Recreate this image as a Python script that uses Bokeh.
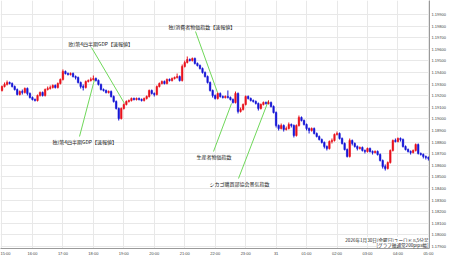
from bokeh.plotting import figure
from bokeh.models import FixedTicker, NumeralTickFormatter, Label, ColumnDataSource, Range1d
from bokeh.embed import file_html
from bokeh.resources import INLINE

# EUR/USD 5-minute candles, 2026-01-30 15:00 -> 2026-01-31 05:00
opens = [
    1.19245, 1.19279, 1.19297, 1.19314, 1.19305, 1.19279, 1.19253, 1.19210, 1.19236, 1.19228, 1.19262, 1.19219,
    1.19184, 1.19167, 1.19159, 1.19202, 1.19228, 1.19202, 1.19253, 1.19262, 1.19271, 1.19288, 1.19271, 1.19305,
    1.19340, 1.19409, 1.19391, 1.19383, 1.19391, 1.19365, 1.19357, 1.19314, 1.19279, 1.19271, 1.19322, 1.19331,
    1.19340, 1.19348, 1.19331, 1.19297, 1.19253, 1.19245, 1.19228, 1.19236, 1.19193, 1.19150, 1.19090, 1.19003,
    1.19090, 1.19124, 1.19150, 1.19159, 1.19176, 1.19167, 1.19176, 1.19167, 1.19159, 1.19176, 1.19193, 1.19245,
    1.19219, 1.19210, 1.19279, 1.19305, 1.19322, 1.19305, 1.19340, 1.19331, 1.19348, 1.19357, 1.19365, 1.19331,
    1.19452, 1.19486, 1.19512, 1.19503, 1.19521, 1.19478, 1.19460, 1.19434, 1.19400, 1.19365, 1.19314, 1.19245,
    1.19202, 1.19176, 1.19219, 1.19193, 1.19184, 1.19193, 1.19184, 1.19167, 1.19141, 1.19219, 1.19064, 1.19081,
    1.19124, 1.19193, 1.19176, 1.19159, 1.19150, 1.19133, 1.19090, 1.19124, 1.19141, 1.19133, 1.19141, 1.19107,
    1.19055, 1.18943, 1.18917, 1.18943, 1.18909, 1.18917, 1.18952, 1.18943, 1.18857, 1.18943, 1.19012, 1.18986,
    1.18952, 1.18917, 1.18900, 1.18917, 1.18874, 1.18848, 1.18822, 1.18797, 1.18762, 1.18745, 1.18805, 1.18814,
    1.18866, 1.18874, 1.18831, 1.18788, 1.18736, 1.18676, 1.18814, 1.18788, 1.18762, 1.18745, 1.18753, 1.18728,
    1.18719, 1.18745, 1.18719, 1.18710, 1.18719, 1.18693, 1.18641, 1.18590, 1.18572, 1.18624, 1.18728, 1.18814,
    1.18805, 1.18831, 1.18822, 1.18762, 1.18736, 1.18719, 1.18710, 1.18728, 1.18779, 1.18702, 1.18693, 1.18676, 1.18667,
]
highs = [
    1.19288, 1.19314, 1.19331, 1.19322, 1.19314, 1.19288, 1.19262, 1.19245, 1.19253, 1.19271, 1.19271, 1.19228,
    1.19193, 1.19176, 1.19210, 1.19236, 1.19236, 1.19262, 1.19279, 1.19288, 1.19297, 1.19297, 1.19314, 1.19348,
    1.19426, 1.19417, 1.19400, 1.19400, 1.19400, 1.19374, 1.19365, 1.19322, 1.19297, 1.19331, 1.19340, 1.19357,
    1.19374, 1.19357, 1.19340, 1.19305, 1.19262, 1.19253, 1.19245, 1.19245, 1.19202, 1.19159, 1.19098, 1.19098,
    1.19133, 1.19159, 1.19167, 1.19184, 1.19184, 1.19184, 1.19184, 1.19176, 1.19184, 1.19202, 1.19253, 1.19253,
    1.19228, 1.19288, 1.19314, 1.19331, 1.19331, 1.19348, 1.19348, 1.19357, 1.19365, 1.19391, 1.19374, 1.19469,
    1.19503, 1.19538, 1.19521, 1.19529, 1.19529, 1.19486, 1.19469, 1.19443, 1.19409, 1.19374, 1.19322, 1.19253,
    1.19210, 1.19228, 1.19228, 1.19202, 1.19202, 1.19245, 1.19193, 1.19176, 1.19236, 1.19228, 1.19098, 1.19133,
    1.19202, 1.19202, 1.19184, 1.19167, 1.19159, 1.19141, 1.19133, 1.19150, 1.19150, 1.19159, 1.19150, 1.19116,
    1.19064, 1.18952, 1.18960, 1.18952, 1.18934, 1.18969, 1.18960, 1.18952, 1.18952, 1.19029, 1.19021, 1.18995,
    1.18960, 1.18926, 1.18926, 1.18926, 1.18883, 1.18857, 1.18831, 1.18805, 1.18771, 1.18814, 1.18831, 1.18874,
    1.18891, 1.18883, 1.18840, 1.18797, 1.18745, 1.18831, 1.18822, 1.18797, 1.18771, 1.18762, 1.18762, 1.18736,
    1.18753, 1.18753, 1.18728, 1.18728, 1.18728, 1.18702, 1.18650, 1.18607, 1.18633, 1.18736, 1.18822, 1.18831,
    1.18840, 1.18840, 1.18831, 1.18771, 1.18745, 1.18728, 1.18736, 1.18788, 1.18788, 1.18710, 1.18702, 1.18684, 1.18676,
]
lows = [
    1.19236, 1.19271, 1.19288, 1.19297, 1.19271, 1.19245, 1.19202, 1.19202, 1.19210, 1.19219, 1.19202, 1.19176,
    1.19159, 1.19150, 1.19150, 1.19193, 1.19193, 1.19193, 1.19245, 1.19253, 1.19262, 1.19262, 1.19262, 1.19297,
    1.19331, 1.19383, 1.19374, 1.19374, 1.19357, 1.19340, 1.19305, 1.19262, 1.19245, 1.19262, 1.19314, 1.19322,
    1.19331, 1.19322, 1.19288, 1.19245, 1.19236, 1.19219, 1.19219, 1.19184, 1.19141, 1.19081, 1.18986, 1.18995,
    1.19081, 1.19116, 1.19141, 1.19150, 1.19159, 1.19159, 1.19159, 1.19150, 1.19150, 1.19167, 1.19184, 1.19210,
    1.19193, 1.19202, 1.19271, 1.19297, 1.19297, 1.19297, 1.19322, 1.19322, 1.19340, 1.19348, 1.19322, 1.19322,
    1.19443, 1.19478, 1.19495, 1.19495, 1.19469, 1.19452, 1.19426, 1.19391, 1.19357, 1.19305, 1.19236, 1.19184,
    1.19167, 1.19167, 1.19184, 1.19176, 1.19176, 1.19176, 1.19159, 1.19133, 1.19133, 1.19047, 1.19055, 1.19072,
    1.19116, 1.19167, 1.19150, 1.19141, 1.19124, 1.19072, 1.19081, 1.19116, 1.19124, 1.19124, 1.19098, 1.19047,
    1.18926, 1.18900, 1.18909, 1.18891, 1.18900, 1.18909, 1.18926, 1.18840, 1.18848, 1.18934, 1.18978, 1.18943,
    1.18900, 1.18874, 1.18891, 1.18866, 1.18840, 1.18814, 1.18788, 1.18745, 1.18728, 1.18736, 1.18788, 1.18805,
    1.18857, 1.18822, 1.18779, 1.18728, 1.18667, 1.18667, 1.18771, 1.18753, 1.18728, 1.18736, 1.18719, 1.18702,
    1.18710, 1.18710, 1.18693, 1.18702, 1.18684, 1.18633, 1.18572, 1.18555, 1.18564, 1.18615, 1.18719, 1.18797,
    1.18797, 1.18805, 1.18753, 1.18728, 1.18710, 1.18693, 1.18702, 1.18719, 1.18693, 1.18684, 1.18659, 1.18650, 1.18641,
]
closes = [
    1.19279, 1.19297, 1.19314, 1.19305, 1.19279, 1.19253, 1.19210, 1.19236, 1.19228, 1.19262, 1.19219, 1.19184,
    1.19167, 1.19159, 1.19202, 1.19228, 1.19202, 1.19253, 1.19262, 1.19271, 1.19288, 1.19271, 1.19305, 1.19340,
    1.19409, 1.19391, 1.19383, 1.19391, 1.19365, 1.19357, 1.19314, 1.19279, 1.19271, 1.19322, 1.19331, 1.19340,
    1.19348, 1.19331, 1.19297, 1.19253, 1.19245, 1.19228, 1.19236, 1.19193, 1.19150, 1.19090, 1.19003, 1.19090,
    1.19124, 1.19150, 1.19159, 1.19176, 1.19167, 1.19176, 1.19167, 1.19159, 1.19176, 1.19193, 1.19245, 1.19219,
    1.19210, 1.19279, 1.19305, 1.19322, 1.19305, 1.19340, 1.19331, 1.19348, 1.19357, 1.19365, 1.19331, 1.19452,
    1.19486, 1.19512, 1.19503, 1.19521, 1.19478, 1.19460, 1.19434, 1.19400, 1.19365, 1.19314, 1.19245, 1.19202,
    1.19176, 1.19219, 1.19193, 1.19184, 1.19193, 1.19184, 1.19167, 1.19141, 1.19219, 1.19064, 1.19081, 1.19124,
    1.19193, 1.19176, 1.19159, 1.19150, 1.19133, 1.19090, 1.19124, 1.19141, 1.19133, 1.19141, 1.19107, 1.19055,
    1.18943, 1.18917, 1.18943, 1.18909, 1.18917, 1.18952, 1.18943, 1.18857, 1.18943, 1.19012, 1.18986, 1.18952,
    1.18917, 1.18900, 1.18917, 1.18874, 1.18848, 1.18822, 1.18797, 1.18762, 1.18745, 1.18805, 1.18814, 1.18866,
    1.18874, 1.18831, 1.18788, 1.18736, 1.18676, 1.18814, 1.18788, 1.18762, 1.18745, 1.18753, 1.18728, 1.18719,
    1.18745, 1.18719, 1.18710, 1.18719, 1.18693, 1.18641, 1.18590, 1.18572, 1.18624, 1.18728, 1.18814, 1.18805,
    1.18831, 1.18822, 1.18762, 1.18736, 1.18719, 1.18710, 1.18728, 1.18779, 1.18702, 1.18693, 1.18676, 1.18667, 1.18659,
]
hour_labels = ["15:00", "16:00", "17:00", "18:00", "19:00", "20:00", "21:00", "22:00",
               "23:00", "31", "01:00", "02:00", "03:00", "04:00", "05:00"]
candles_per_hour = 12
price_ticks = [1.179, 1.180, 1.181, 1.182, 1.183, 1.184, 1.185, 1.186, 1.187, 1.188, 1.189,
               1.190, 1.191, 1.192, 1.193, 1.194, 1.195, 1.196, 1.197, 1.198, 1.199]
event_texts = ["欧)第4四半期GDP【速報値】", "独)第4四半期GDP【速報値】", "独)消費者物価指数【速報値】",
               "生産者物価指数", "シカゴ購買部協会景気指数"]
footnote = ["2026年1月30日(金曜日)ユーロドル5分足", "[グラフ軸通常200pips幅]"]

# ---- layout / style ----
FRAME_W, FRAME_H = 429, 248
X0, X1 = -0.59, 168.44
Y0, Y1 = 1.178827, 1.200207
UP, DOWN = "#e8121c", "#1616d6"
GREEN = "#6fd85a"
JP = "Noto Sans CJK JP"

def sx(px):
    return X0 + px / FRAME_W * (X1 - X0)

def sy(py):
    return Y1 - py / FRAME_H * (Y1 - Y0)

n = len(closes)
xs = list(range(n))
colors = [UP if c >= o else DOWN for o, c in zip(opens, closes)]
src = ColumnDataSource(dict(
    x=xs, open=opens, close=closes, high=highs, low=lows,
    top=[max(o, c) for o, c in zip(opens, closes)],
    bottom=[min(o, c) for o, c in zip(opens, closes)],
    color=colors))

p = figure(width=450, height=258, x_range=Range1d(X0, X1), y_range=Range1d(Y0, Y1),
           output_backend="svg", toolbar_location=None, y_axis_location="right",
           min_border_left=0, min_border_top=0, min_border_right=21, min_border_bottom=10)
p.outline_line_color = None
p.background_fill_color = "white"

hour_pos = [i * candles_per_hour for i in range(len(hour_labels))]
p.xaxis.ticker = FixedTicker(ticks=hour_pos)
p.xaxis.major_label_overrides = {pos: lab for pos, lab in zip(hour_pos, hour_labels)}
p.yaxis.ticker = FixedTicker(ticks=price_ticks)
p.yaxis.formatter = NumeralTickFormatter(format="0.00000")
for ax in (p.xaxis[0], p.yaxis[0]):
    ax.major_label_text_font_size = "4px"
    ax.major_label_text_color = "#444444"
    ax.major_label_text_font = "Liberation Sans"
    ax.axis_line_color = "#9a9a9a"
    ax.major_tick_line_color = None
    ax.minor_tick_line_color = None
    ax.major_tick_out = 0
    ax.major_tick_in = 0
    ax.major_label_standoff = 2
p.xgrid.ticker = FixedTicker(ticks=hour_pos)
p.ygrid.ticker = FixedTicker(ticks=price_ticks)
p.xgrid.grid_line_color = "#e8e8e8"
p.ygrid.grid_line_color = "#e8e8e8"

# annotation leader lines (screen px: start -> end)
leaders = [((91, 47), (124, 103)), ((79, 136), (94, 79)), ((195, 31), (217, 92)),
           ((213, 151), (231, 103)), ((238, 178), (268, 100))]
p.segment(x0=[sx(a[0]) for a, b in leaders], y0=[sy(a[1]) for a, b in leaders],
          x1=[sx(b[0]) for a, b in leaders], y1=[sy(b[1]) for a, b in leaders],
          line_color=GREEN, line_width=1)

# candles
p.segment(x0="x", y0="high", x1="x", y1="low", line_color="color", line_width=1, source=src)
p.vbar(x="x", width=0.62, top="top", bottom="bottom", fill_color="color", line_color="color",
       line_width=0.5, source=src)

label_pos = [(68, 43), (52, 141), (168, 26), (196, 156), (209, 183)]
for txt, (px, py) in zip(event_texts, label_pos):
    p.add_layout(Label(x=sx(px), y=sy(py), text=txt, text_font=JP, text_font_size="5px",
                       text_color="#222222", text_baseline="middle", text_align="left"))

for txt, py in zip(footnote, (239.5, 244.5)):
    p.add_layout(Label(x=sx(428), y=sy(py), text=txt, text_font=JP, text_font_size="4.6px",
                       text_color="#222222", text_baseline="middle", text_align="right",
                       background_fill_color="white"))

p.add_layout(Label(x=sx(437), y=sy(6), text="USD", text_font="Liberation Sans",
                   text_font_size="4px", text_color="#444444", text_baseline="middle",
                   text_align="left"))

open("out.html", "w").write(file_html(p, INLINE))
